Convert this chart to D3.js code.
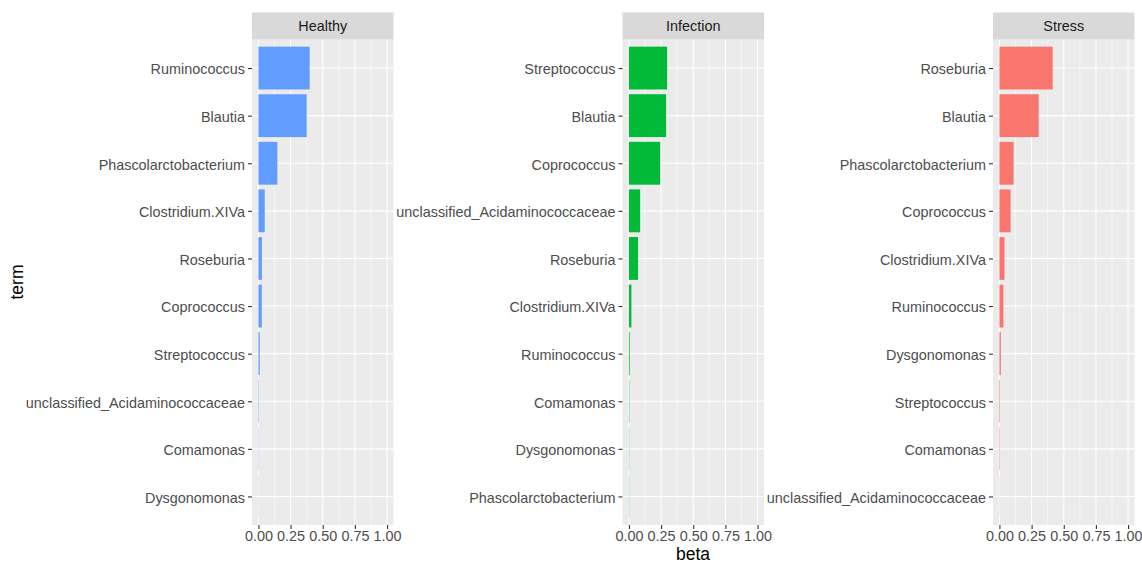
<!DOCTYPE html>
<html>
<head>
<meta charset="utf-8">
<script src="https://cdn.jsdelivr.net/npm/d3@7"></script>
<style>
  html, body { margin: 0; padding: 0; background: #fff; }
  svg { display: block; font-family: "Liberation Sans", Arial, Helvetica, sans-serif; }
</style>
</head>
<body>
<svg id="chart" width="1142" height="564"></svg>
<script>
// Top terms per topic (ordered top to bottom) with their beta values
const panels = ["Healthy", "Infection", "Stress"];
const panelColors = ["#619CFF", "#00BA38", "#F8766D"];

const healthyTerms = ["Ruminococcus", "Blautia", "Phascolarctobacterium", "Clostridium.XIVa", "Roseburia",
  "Coprococcus", "Streptococcus", "unclassified_Acidaminococcaceae", "Comamonas", "Dysgonomonas"];
const healthyBeta = [0.398, 0.375, 0.147, 0.049, 0.027, 0.026, 0.010, 0.003, 0.002, 0.0012];

const infectionTerms = ["Streptococcus", "Blautia", "Coprococcus", "unclassified_Acidaminococcaceae", "Roseburia",
  "Clostridium.XIVa", "Ruminococcus", "Comamonas", "Dysgonomonas", "Phascolarctobacterium"];
const infectionBeta = [0.297, 0.289, 0.243, 0.087, 0.071, 0.019, 0.006, 0.0025, 0.002, 0.0018];

const stressTerms = ["Roseburia", "Blautia", "Phascolarctobacterium", "Coprococcus", "Clostridium.XIVa",
  "Ruminococcus", "Dysgonomonas", "Streptococcus", "Comamonas", "unclassified_Acidaminococcaceae"];
const stressBeta = [0.414, 0.305, 0.110, 0.087, 0.039, 0.031, 0.011, 0.004, 0.003, 0.0012];

const xTicks = [0, 0.25, 0.5, 0.75, 1];
const xMinor = [0.125, 0.375, 0.625, 0.875];

const termSets = [healthyTerms, infectionTerms, stressTerms];
const betaSets = [healthyBeta, infectionBeta, stressBeta];

const svg = d3.select("#chart");
const panelLefts = [252, 622.5, 993];
const panelWidth = 141.5;
const panelTop = 39.5, panelBottom = 525;
const stripTop = 12.5;

const textGrey = "#4D4D4D";
const axisFont = 14.4;

panels.forEach((name, i) => {
  const left = panelLefts[i];
  const x = d3.scaleLinear().domain([-0.05, 1.05]).range([left, left + panelWidth]);
  const y = d3.scalePoint().domain(termSets[i]).range([panelTop, panelBottom]).padding(0.6);
  const barH = y.step() * 0.9;

  const g = svg.append("g");

  // panel background
  g.append("rect")
    .attr("x", left).attr("y", panelTop)
    .attr("width", panelWidth).attr("height", panelBottom - panelTop)
    .attr("fill", "#EBEBEB");

  // minor vertical grid
  g.selectAll("line.minor").data(xMinor).enter().append("line")
    .attr("x1", d => x(d)).attr("x2", d => x(d))
    .attr("y1", panelTop).attr("y2", panelBottom)
    .attr("stroke", "#fff").attr("stroke-width", 0.55);

  // major vertical grid
  g.selectAll("line.majx").data(xTicks).enter().append("line")
    .attr("x1", d => x(d)).attr("x2", d => x(d))
    .attr("y1", panelTop).attr("y2", panelBottom)
    .attr("stroke", "#fff").attr("stroke-width", 1.1);

  // major horizontal grid
  g.selectAll("line.majy").data(termSets[i]).enter().append("line")
    .attr("x1", left).attr("x2", left + panelWidth)
    .attr("y1", d => y(d)).attr("y2", d => y(d))
    .attr("stroke", "#fff").attr("stroke-width", 1.1);

  // bars
  g.selectAll("rect.bar").data(termSets[i].map((t, k) => ({ term: t, beta: betaSets[i][k] })))
    .enter().append("rect")
    .attr("x", x(0))
    .attr("y", d => y(d.term) - barH / 2)
    .attr("width", d => x(d.beta) - x(0))
    .attr("height", barH)
    .attr("fill", panelColors[i]);

  // strip
  g.append("rect")
    .attr("x", left).attr("y", stripTop)
    .attr("width", panelWidth).attr("height", panelTop - stripTop)
    .attr("fill", "#D9D9D9");
  g.append("text")
    .attr("x", left + panelWidth / 2).attr("y", (stripTop + panelTop) / 2)
    .attr("dy", "0.38em")
    .attr("text-anchor", "middle")
    .attr("font-size", axisFont).attr("fill", "#1A1A1A")
    .text(name);

  // y axis
  const yAxis = d3.axisLeft(y).tickSize(4).tickPadding(3);
  const ya = g.append("g").attr("transform", `translate(${left},0)`).call(yAxis);
  ya.select(".domain").remove();
  ya.selectAll(".tick line").attr("stroke", "#333333").attr("stroke-width", 1.1);
  ya.selectAll(".tick text").attr("font-size", axisFont).attr("fill", textGrey).attr("dy", "0.4em")
    .attr("font-family", "Liberation Sans, Arial, Helvetica, sans-serif");

  // x axis
  const xAxis = d3.axisBottom(x).tickValues(xTicks).tickFormat(d3.format(".2f")).tickSize(4).tickPadding(2);
  const xa = g.append("g").attr("transform", `translate(0,${panelBottom})`).call(xAxis);
  xa.select(".domain").remove();
  xa.selectAll(".tick line").attr("stroke", "#333333").attr("stroke-width", 1.1);
  xa.selectAll(".tick text").attr("font-size", axisFont).attr("fill", textGrey)
    .attr("font-family", "Liberation Sans, Arial, Helvetica, sans-serif");
});

// axis titles
svg.append("text")
  .attr("x", 693).attr("y", 560)
  .attr("text-anchor", "middle")
  .attr("font-size", 17.5).attr("fill", "#000")
  .text("beta");

svg.append("text")
  .attr("transform", "translate(23,282) rotate(-90)")
  .attr("text-anchor", "middle")
  .attr("font-size", 17.5).attr("fill", "#000")
  .text("term");
</script>
</body>
</html>
